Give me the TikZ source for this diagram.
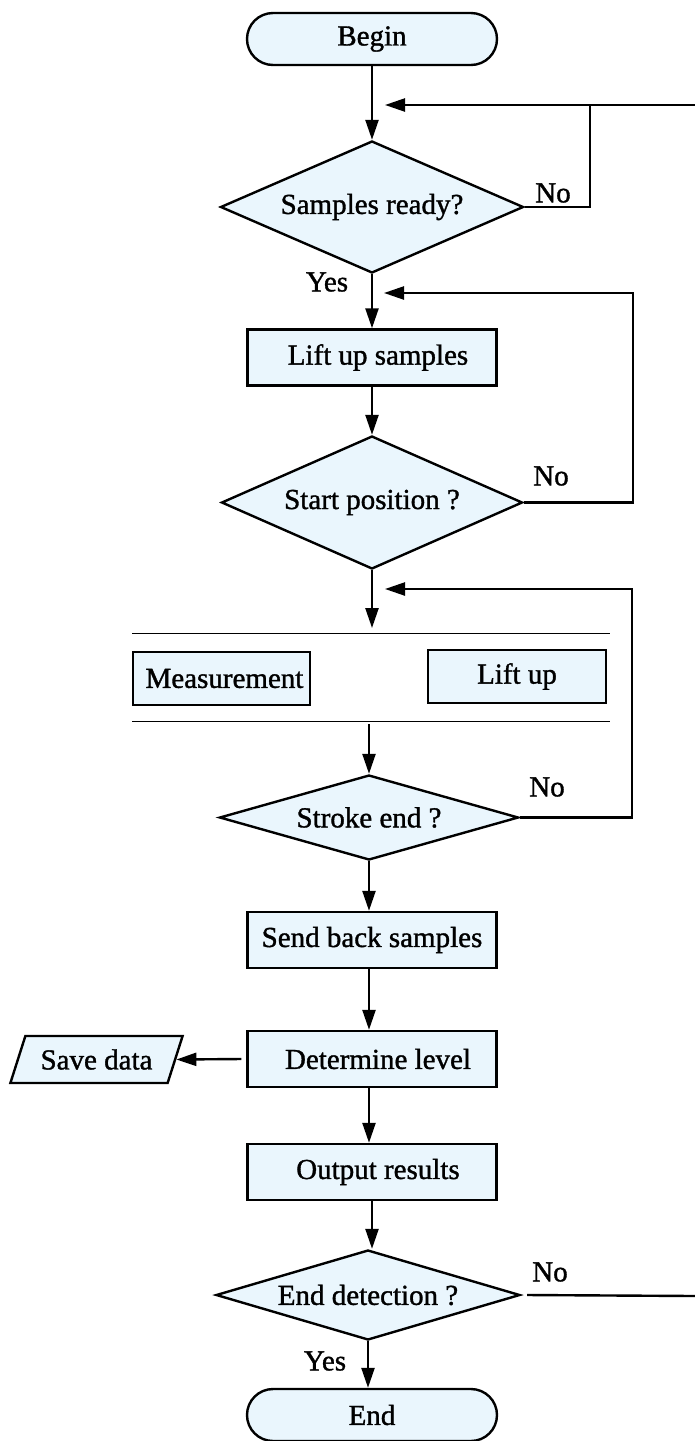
\documentclass[tikz,border=0pt]{standalone}
\usepackage{fontspec}
\setmainfont{Liberation Serif}
\newfontfamily\chartfont{Liberation Serif}[FakeBold=1.2]
\usetikzlibrary{arrows.meta,shapes.geometric}
\definecolor{boxfill}{RGB}{234,246,253}

\begin{document}
\begin{tikzpicture}[x=0.5pt,y=-0.5pt,
  every node/.style={font=\chartfont\fontsize{14.5}{17}\selectfont},
  line/.style={line width=1.2pt},
  flow/.style={line width=1.2pt,-{Triangle[length=10pt,width=6.5pt]}},
  term/.style={draw,line width=1.2pt,fill=boxfill,rounded corners=13pt,minimum width=125pt,minimum height=26pt,inner sep=0pt},
  proc/.style={draw,line width=1.2pt,fill=boxfill,minimum width=124.5pt,minimum height=28pt,inner sep=0pt},
  decide/.style={draw,line width=1.2pt,fill=boxfill,diamond,aspect=3.5,inner sep=0pt},
  io/.style={draw,line width=1.2pt,fill=boxfill,trapezium,trapezium left angle=60,trapezium right angle=120,trapezium stretches=true,minimum width=86.5pt,minimum height=23.5pt,inner sep=0pt}]
  \useasboundingbox (0,0) rectangle (695,1441);

  \node[term] (begin) at (372,39) {Begin};
  \node[decide,minimum width=151.5pt,minimum height=66pt] (ready) at (372,207) {Samples ready?};
  \node[proc] (lift) at (372,357.5) {\hspace*{6pt}Lift up samples};
  \node[decide,minimum width=150.5pt,minimum height=66.5pt] (start) at (372,502.5) {Start position ?};
  \node[proc,minimum width=88.5pt,minimum height=26.5pt] (meas) at (221.5,678.5) {\hspace*{3pt}Measurement};
  \node[proc,minimum width=89pt,minimum height=26.5pt] (liftup) at (517,676.5) {Lift up};
  \node[decide,minimum width=149.5pt,minimum height=42.5pt] (stroke) at (369,817.5) {Stroke end ?};
  \node[proc] (send) at (372,940) {Send back samples};
  \node[proc] (level) at (372,1059) {\hspace*{6pt}Determine level};
  \node[io] (save) at (96.5,1059.5) {Save data};
  \node[proc] (output) at (372,1172) {\hspace*{6pt}Output results};
  \node[decide,minimum width=152pt,minimum height=45pt] (enddet) at (368,1295) {End detection ?};
  \node[term] (end) at (372,1415) {End};

  \node (no1) at (553,193) {No};
  \node (yes1) at (327,282) {Yes};
  \node (no2) at (551,476) {No};
  \node (no3) at (547,787) {No};
  \node (no4) at (550,1272) {No};
  \node (yes4) at (325,1361) {Yes};

  \coordinate (top) at (695,105);
  \coordinate (in1) at (385,105);
  \coordinate (k1) at (590,105);
  \coordinate (k2) at (633,293);
  \coordinate (in2) at (384,293);
  \coordinate (k3) at (632,589);
  \coordinate (in3) at (385,589);
  \coordinate (p1) at (372,628);
  \coordinate (p2) at (369,724);
  \coordinate (bot) at (695,1296);

  \draw[line width=0.5pt] (132,633) -- (610,633);
  \draw[line width=0.5pt] (132,721) -- (610,721);

  \draw[flow] (begin) -- (ready);
  \draw[flow] (top) -- (in1);
  \draw[line] (ready.east) -| (k1);
  \draw[flow] (ready) -- (lift);
  \draw[flow] (lift) -- (start);
  \draw[flow] (start.east) -| (k2) -- (in2);
  \draw[flow] (start) -- (p1);
  \draw[flow] (stroke.east) -| (k3) -- (in3);
  \draw[flow] (p2) -- (stroke);
  \draw[flow] (stroke.south) -- (stroke.south |- send.north);
  \draw[flow] (send.south -| stroke) -- (level.north -| stroke);
  \draw[flow] ([xshift=-2.5pt]level.west) -- (save.east);
  \draw[flow] (level.south -| stroke) -- (output.north -| stroke);
  \draw[flow] (output) -- (output.south |- enddet.north);
  \draw[line] ([xshift=3pt]enddet.east) -- (bot);
  \draw[flow] (enddet.south) -- (enddet.south |- end.north);
\end{tikzpicture}
\end{document}
